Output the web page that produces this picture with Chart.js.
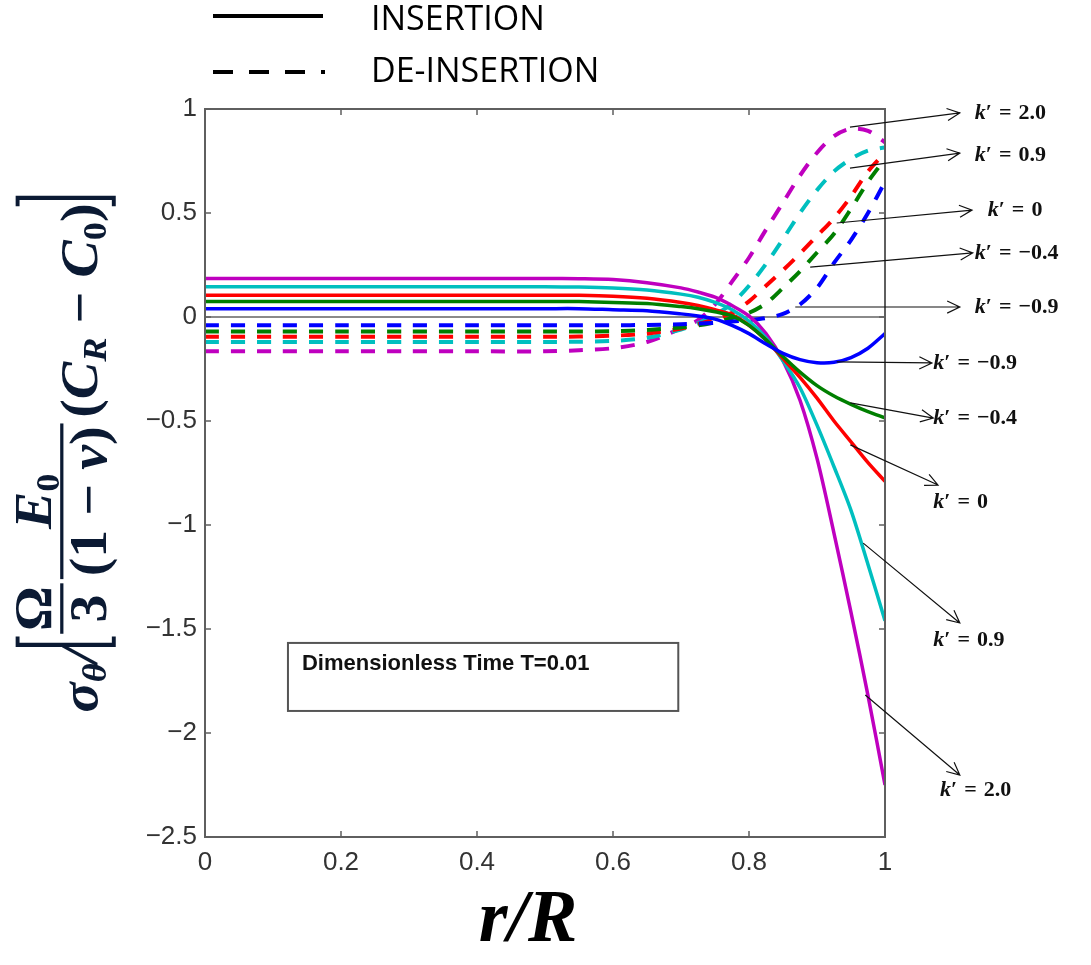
<!DOCTYPE html>
<html>
<head>
<meta charset="utf-8">
<script src="https://cdn.jsdelivr.net/npm/chart.js@4"></script>
<style>
html, body { margin: 0; padding: 0; background: #fff; }
#wrap { width: 1091px; height: 965px; }
</style>
</head>
<body>
<div id="wrap"><canvas id="stressChart" width="1091" height="965"></canvas></div>
<script>
// r/R sample positions
const rr = [0, 0.1, 0.2, 0.3, 0.4, 0.5, 0.55, 0.6, 0.65, 0.7, 0.725, 0.75, 0.775, 0.8, 0.825, 0.85, 0.875, 0.9, 0.925, 0.95, 0.975, 1.0];

// insertion (solid)
const insK20  = [0.185, 0.185, 0.185, 0.185, 0.185, 0.185, 0.184, 0.18, 0.165, 0.14, 0.12, 0.095, 0.055, 0.005, -0.08, -0.21, -0.40, -0.68, -1.04, -1.42, -1.82, -2.25];
const insK09  = [0.145, 0.145, 0.145, 0.145, 0.145, 0.145, 0.144, 0.14, 0.13, 0.11, 0.095, 0.07, 0.035, -0.02, -0.10, -0.21, -0.34, -0.52, -0.72, -0.93, -1.19, -1.46];
const insK00  = [0.105, 0.105, 0.105, 0.105, 0.105, 0.105, 0.104, 0.10, 0.09, 0.07, 0.055, 0.035, 0.01, -0.04, -0.11, -0.20, -0.29, -0.39, -0.50, -0.60, -0.70, -0.79];
const insKm04 = [0.075, 0.075, 0.075, 0.075, 0.075, 0.075, 0.074, 0.07, 0.065, 0.05, 0.04, 0.025, 0.005, -0.04, -0.11, -0.19, -0.265, -0.33, -0.38, -0.42, -0.455, -0.485];
const insKm09 = [0.04, 0.04, 0.04, 0.04, 0.04, 0.04, 0.04, 0.035, 0.03, 0.015, 0.005, -0.01, -0.04, -0.08, -0.13, -0.175, -0.205, -0.22, -0.218, -0.195, -0.15, -0.08];

// de-insertion (dashed)
const deK20  = [-0.165, -0.165, -0.165, -0.165, -0.165, -0.165, -0.16, -0.15, -0.12, -0.055, -0.015, 0.06, 0.17, 0.285, 0.42, 0.55, 0.68, 0.79, 0.87, 0.905, 0.895, 0.84];
const deK09  = [-0.12, -0.12, -0.12, -0.12, -0.12, -0.12, -0.119, -0.115, -0.10, -0.06, -0.03, 0.01, 0.065, 0.15, 0.255, 0.375, 0.50, 0.61, 0.70, 0.76, 0.80, 0.815];
const deK00  = [-0.095, -0.095, -0.095, -0.095, -0.095, -0.095, -0.094, -0.09, -0.08, -0.055, -0.035, -0.01, 0.02, 0.075, 0.15, 0.225, 0.305, 0.39, 0.475, 0.58, 0.70, 0.79];
const deKm04 = [-0.07, -0.07, -0.07, -0.07, -0.07, -0.07, -0.07, -0.068, -0.062, -0.05, -0.04, -0.025, -0.005, 0.02, 0.065, 0.14, 0.22, 0.31, 0.40, 0.52, 0.65, 0.76];
const deKm09 = [-0.04, -0.04, -0.04, -0.04, -0.04, -0.04, -0.04, -0.04, -0.038, -0.035, -0.032, -0.028, -0.022, -0.015, -0.005, 0.015, 0.06, 0.14, 0.26, 0.37, 0.50, 0.65];

const xTickVals = [0, 0.2, 0.4, 0.6, 0.8, 1];
const yTickVals = [1, 0.5, 0, -0.5, -1, -1.5, -2, -2.5];

// k' labels: [text, start x,y, arrow end x,y, text x,y] in data units
const kLabels = [
    ['2.0',  0.9485, 0.913, 1.110, 0.981, 1.132, 0.981],
    ['0.9',  0.9485, 0.716, 1.110, 0.788, 1.132, 0.779],
    ['0',    0.929, 0.452, 1.128, 0.514, 1.151, 0.514],
    ['−0.4', 0.890, 0.240, 1.129, 0.308, 1.132, 0.308],
    ['−0.9', 0.868, 0.048, 1.110, 0.048, 1.132, 0.048],
    ['−0.9', 0.929, -0.216, 1.069, -0.221, 1.071, -0.221],
    ['−0.4', 0.949, -0.413, 1.071, -0.486, 1.071, -0.486],
    ['0',    0.949, -0.615, 1.078, -0.808, 1.071, -0.889],
    ['0.9',  0.968, -1.087, 1.110, -1.471, 1.071, -1.553],
    ['2.0',  0.971, -1.817, 1.110, -2.202, 1.081, -2.274]
];

const series = [
    { d: insKm09, c: '#0000ff', dash: false },
    { d: insKm04, c: '#007f00', dash: false },
    { d: insK00,  c: '#ff0000', dash: false },
    { d: insK09,  c: '#00bfbf', dash: false },
    { d: insK20,  c: '#bf00bf', dash: false },
    { d: deKm09,  c: '#0000ff', dash: true },
    { d: deKm04,  c: '#007f00', dash: true },
    { d: deK00,   c: '#ff0000', dash: true },
    { d: deK09,   c: '#00bfbf', dash: true },
    { d: deK20,   c: '#bf00bf', dash: true }
];

function arrow(ctx, x1, y1, x2, y2) {
    ctx.beginPath();
    ctx.moveTo(x1, y1);
    ctx.lineTo(x2, y2);
    const ang = Math.atan2(y2 - y1, x2 - x1);
    const L = 14, w = 0.45;
    ctx.moveTo(x2 - L * Math.cos(ang - w), y2 - L * Math.sin(ang - w));
    ctx.lineTo(x2, y2);
    ctx.lineTo(x2 - L * Math.cos(ang + w), y2 - L * Math.sin(ang + w));
    ctx.stroke();
}

function kText(ctx, val, x, y) {
    ctx.textBaseline = 'middle';
    ctx.textAlign = 'left';
    ctx.font = 'italic bold 22px "Liberation Serif"';
    ctx.fillText('k', x, y);
    let cx = x + ctx.measureText('k').width;
    ctx.font = 'bold 22px "Liberation Serif"';
    ctx.fillText('′', cx, y);
    cx += ctx.measureText('′').width + 7;
    ctx.fillText('=', cx, y);
    cx += ctx.measureText('=').width + 7;
    ctx.fillText(val, cx, y);
}

function yTitle(ctx) {
    ctx.save();
    ctx.translate(80, 452);
    ctx.rotate(-Math.PI / 2);
    ctx.scale(1.4, 1.3);
    ctx.fillStyle = '#0b1a33';
    ctx.strokeStyle = '#0b1a33';
    ctx.textBaseline = 'alphabetic';
    ctx.textAlign = 'left';
    const big = 'bold 40px "Liberation Serif"';
    const bigI = 'italic bold 40px "Liberation Serif"';
    const sub = 'bold 26px "Liberation Serif"';
    const subI = 'italic bold 26px "Liberation Serif"';
    const w = (f, t) => { ctx.font = f; return ctx.measureText(t).width; };
    let x = -186;
    const put = (f, t, y) => { ctx.font = f; ctx.fillText(t, x, y); x += ctx.measureText(t).width; };
    put(bigI, 'σ', 13);
    put(subI, 'θ', 20);
    put(bigI, '/', 13);
    // left bracket
    ctx.lineWidth = 3;
    ctx.beginPath();
    ctx.moveTo(x + 8, -48); ctx.lineTo(x + 2, -48); ctx.lineTo(x + 2, 26); ctx.lineTo(x + 8, 26);
    ctx.stroke();
    x += 10;
    // fraction Ω/3
    const wO = w(big, 'Ω'), w3 = w(big, '3');
    const f1 = Math.max(wO, w3) + 4;
    ctx.font = big;
    ctx.fillText('Ω', x + (f1 - wO) / 2, -22);
    ctx.fillText('3', x + (f1 - w3) / 2, 20);
    ctx.lineWidth = 2.5;
    ctx.beginPath(); ctx.moveTo(x, -14); ctx.lineTo(x + f1, -14); ctx.stroke();
    x += f1 + 3;
    // fraction E0/(1-v)
    const wE = w(bigI, 'E') + w(sub, '0');
    const wD = w(big, '(1 − ') + w(bigI, 'ν') + w(big, ')');
    const f2 = Math.max(wE, wD) + 4;
    let sx = x + (f2 - wE) / 2;
    ctx.font = bigI; ctx.fillText('E', sx, -22); sx += ctx.measureText('E').width;
    ctx.font = sub; ctx.fillText('0', sx, -16);
    sx = x + (f2 - wD) / 2;
    ctx.font = big; ctx.fillText('(1 − ', sx, 20); sx += ctx.measureText('(1 − ').width;
    ctx.font = bigI; ctx.fillText('ν', sx, 20); sx += ctx.measureText('ν').width;
    ctx.font = big; ctx.fillText(')', sx, 20);
    ctx.beginPath(); ctx.moveTo(x, -14); ctx.lineTo(x + f2, -14); ctx.stroke();
    x += f2 + 4;
    put(big, '(', 13);
    put(bigI, 'C', 13);
    put(subI, 'R', 20);
    put(big, ' − ', 13);
    put(bigI, 'C', 13);
    put(sub, '0', 20);
    put(big, ')', 13);
    ctx.lineWidth = 3;
    ctx.beginPath();
    ctx.moveTo(x - 2, -48); ctx.lineTo(x + 4, -48); ctx.lineTo(x + 4, 26); ctx.lineTo(x - 2, 26);
    ctx.stroke();
    ctx.restore();
}

const decor = {
    id: 'decor',
    afterDraw(chart) {
        const ctx = chart.ctx, a = chart.chartArea;
        const xs = chart.scales.x, ys = chart.scales.y;
        ctx.save();
        // axes box + inward ticks
        ctx.strokeStyle = '#5f5f5f';
        ctx.lineWidth = 2;
        ctx.strokeRect(a.left, a.top, a.right - a.left, a.bottom - a.top);
        ctx.lineWidth = 1.5;
        ctx.beginPath();
        xTickVals.forEach(v => {
            const p = xs.getPixelForValue(v);
            ctx.moveTo(p, a.bottom); ctx.lineTo(p, a.bottom - 6);
            ctx.moveTo(p, a.top); ctx.lineTo(p, a.top + 6);
        });
        yTickVals.forEach(v => {
            const p = ys.getPixelForValue(v);
            ctx.moveTo(a.left, p); ctx.lineTo(a.left + 6, p);
            ctx.moveTo(a.right, p); ctx.lineTo(a.right - 6, p);
        });
        ctx.stroke();

        // time box
        const bx1 = xs.getPixelForValue(0.122), bx2 = xs.getPixelForValue(0.696);
        const by1 = ys.getPixelForValue(-1.567), by2 = ys.getPixelForValue(-1.894);
        ctx.fillStyle = '#fff';
        ctx.fillRect(bx1, by1, bx2 - bx1, by2 - by1);
        ctx.strokeStyle = '#555';
        ctx.lineWidth = 2;
        ctx.strokeRect(bx1, by1, bx2 - bx1, by2 - by1);
        ctx.fillStyle = '#111';
        ctx.font = 'bold 22px "Liberation Sans"';
        ctx.textAlign = 'left';
        ctx.textBaseline = 'middle';
        ctx.fillText('Dimensionless Time T=0.01', bx1 + 14, by1 + 21, 332);

        // k' arrows and labels
        ctx.strokeStyle = '#111';
        ctx.fillStyle = '#111';
        ctx.lineWidth = 1.2;
        kLabels.forEach(k => {
            arrow(ctx, xs.getPixelForValue(k[1]), ys.getPixelForValue(k[2]),
                xs.getPixelForValue(k[3]), ys.getPixelForValue(k[4]));
            kText(ctx, k[0], xs.getPixelForValue(k[5]), ys.getPixelForValue(k[6]));
        });

        // top legend
        ctx.strokeStyle = '#000';
        ctx.lineWidth = 4;
        ctx.beginPath(); ctx.moveTo(213, 16); ctx.lineTo(323, 16); ctx.stroke();
        ctx.setLineDash([20, 16]);
        ctx.beginPath(); ctx.moveTo(213, 72); ctx.lineTo(325, 72); ctx.stroke();
        ctx.setLineDash([]);
        ctx.fillStyle = '#000';
        ctx.font = '34px "Open Sans"';
        ctx.textBaseline = 'middle';
        ctx.fillText('INSERTION', 371, 20, 181);
        ctx.fillText('DE-INSERTION', 371, 72, 237);

        // x title
        ctx.font = 'italic bold 74px "Liberation Serif"';
        ctx.textAlign = 'center';
        ctx.textBaseline = 'middle';
        ctx.fillText('r/R', 528, 922);

        yTitle(ctx);
        ctx.restore();
    }
};

const datasets = series.map(s => ({
    data: rr.map((r, i) => ({ x: r, y: s.d[i] })),
    borderColor: s.c,
    borderWidth: s.dash ? 4 : 3.5,
    borderDash: s.dash ? [14, 12] : [],
    pointRadius: 0,
    fill: false,
    tension: 0.3
}));

new Chart(document.getElementById('stressChart').getContext('2d'), {
    type: 'line',
    data: { datasets: datasets },
    options: {
        responsive: false,
        animation: false,
        layout: { padding: { left: 0, right: 206, top: 109, bottom: 0 } },
        plugins: { legend: { display: false }, tooltip: { enabled: false } },
        scales: {
            x: {
                type: 'linear',
                min: 0,
                max: 1,
                afterFit: s => { s.height = 128; },
                afterBuildTicks: s => { s.ticks = xTickVals.map(v => ({ value: v })); },
                grid: { display: false },
                border: { display: false },
                ticks: {
                    font: { family: 'Liberation Sans', size: 26 },
                    color: '#333',
                    padding: 2,
                    maxRotation: 0,
                    callback: v => String(v)
                }
            },
            y: {
                min: -2.5,
                max: 1,
                afterFit: s => { s.width = 205; },
                afterBuildTicks: s => { s.ticks = yTickVals.map(v => ({ value: v })); },
                grid: {
                    color: c => (c.tick && c.tick.value === 0 ? '#8a8a8a' : 'rgba(0,0,0,0)'),
                    lineWidth: 2,
                    drawTicks: false
                },
                border: { display: false },
                ticks: {
                    font: { family: 'Liberation Sans', size: 26 },
                    color: '#333',
                    padding: 8,
                    callback: v => (v < 0 ? '−' : '') + Math.abs(v)
                }
            }
        }
    },
    plugins: [decor]
});
</script>
</body>
</html>
